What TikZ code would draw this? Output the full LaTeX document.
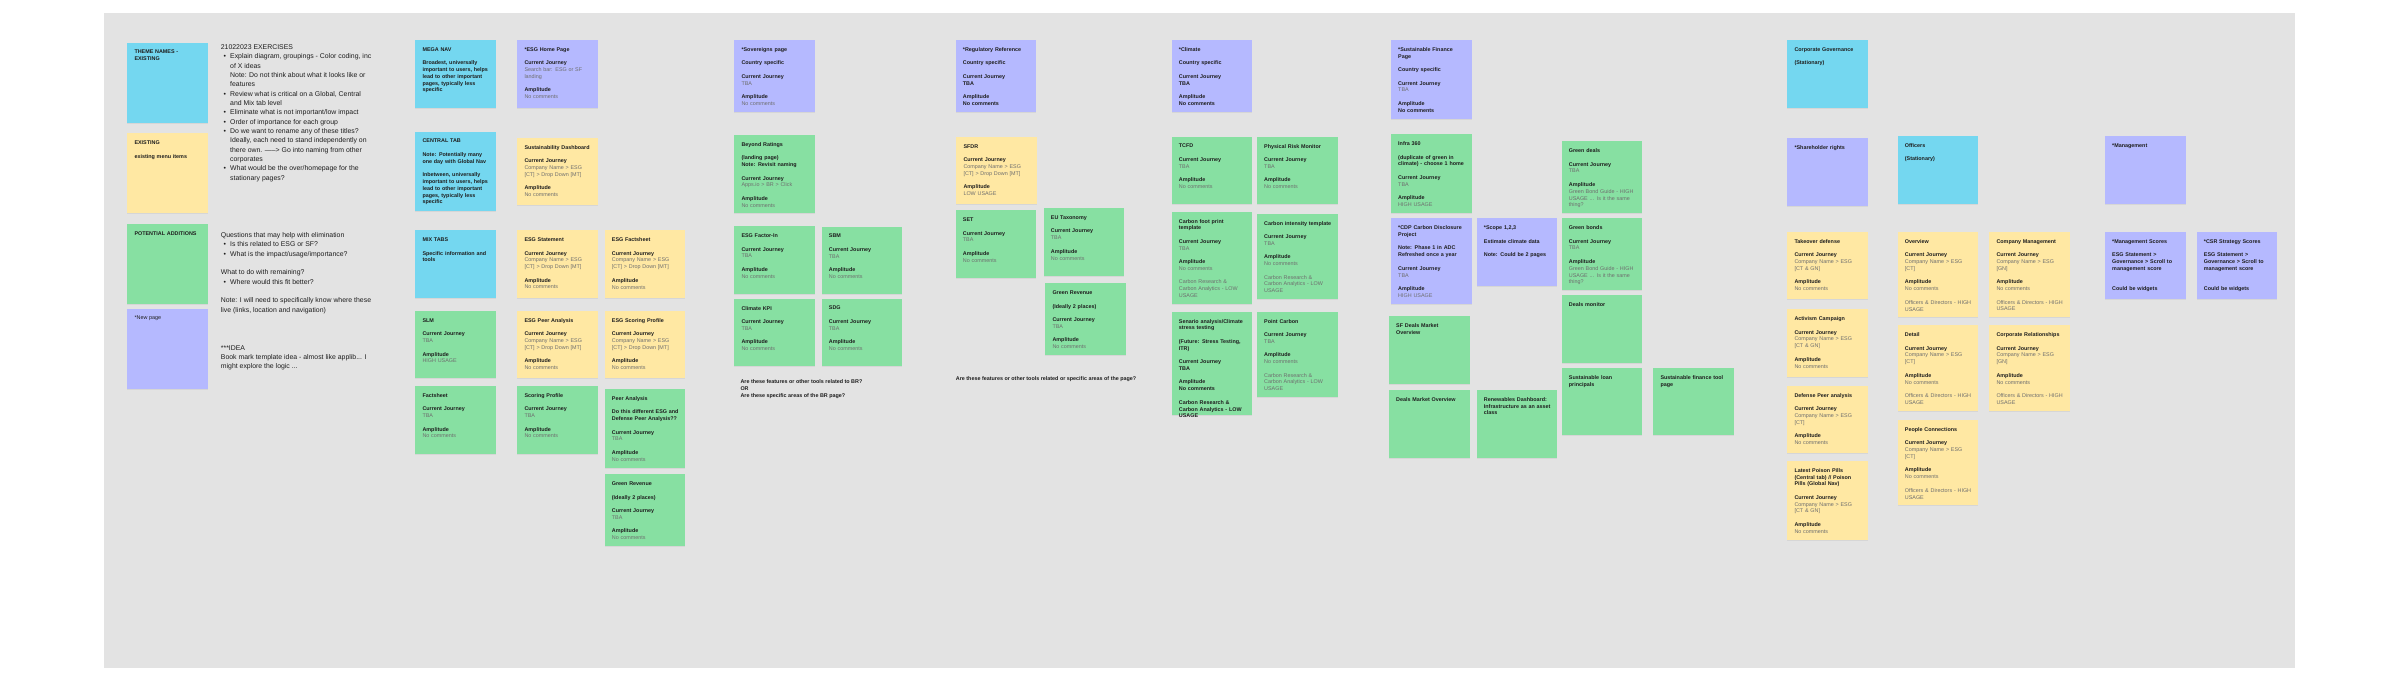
\documentclass[tikz,border=0pt]{standalone}
\usepackage{fontspec}
\setmainfont{Liberation Sans}
\usetikzlibrary{shadows}
\definecolor{boardc}{HTML}{E3E3E3}
\definecolor{cy}{HTML}{74D7F0}
\definecolor{pu}{HTML}{B5B9FF}
\definecolor{yl}{HTML}{FFE8A3}
\definecolor{gr}{HTML}{87E0A2}
\definecolor{gtext}{HTML}{6E6E6E}
\definecolor{btext}{HTML}{1E1E1E}
\newcommand\hb[1]{\textbf{#1}}
\newcommand\gt[1]{\textcolor{gtext}{#1}}
\newcommand\bl{\\[6.77pt]}
\newcommand\cjx{\hb{Current Journey}}
\newcommand\ampx{\hb{Amplitude}}
\newcommand\ncx{\gt{No comments}}
\newcommand\tbax{\gt{TBA}}
\newcommand\cnx{\gt{Company Name > ESG}}
\newcommand\ctx{\gt{[CT] > Drop Down [MT]}}
\newcommand\bul{\makebox[9.3pt][l]{\hspace{2.6pt}\textbullet}}
\newcommand\ind{\hspace*{9.3pt}}
\newcommand\stk[7]{%
  \node[note, fill=#2, minimum width=#5pt, minimum height=#6pt] (#1) at (#3,#4) {};
  \node[notetext] (#1-t) at ([xshift=7pt,yshift=-7.2pt]#1.north west) {#7};
}
\begin{document}
\begin{tikzpicture}[x=1pt,y=-1pt,
  note/.style={anchor=north west, inner sep=0pt, outer sep=0pt,
    drop shadow={opacity=0.13, shadow xshift=0pt, shadow yshift=-0.9pt}},
  notetext/.style={anchor=north west, inner sep=0pt, text width=76pt, align=left,
    text=btext, font=\fontsize{5.4}{6.77}\selectfont},
  freetext/.style={anchor=north west, inner sep=0pt, align=left, text=btext,
    font=\fontsize{6.9}{9.33}\selectfont}]
\useasboundingbox (0,0) rectangle (2400,688);
\fill[white] (0,0) rectangle (2400,688);
\node[anchor=north west, inner sep=0pt, fill=boardc, minimum width=2190.7pt, minimum height=654.7pt] (board) at (104,13) {};

% ---- legend column
\stk{theme}{cy}{127.3}{42.7}{81}{80}{\hb{THEME NAMES -}\\\hb{EXISTING}}
\stk{existing}{yl}{127.3}{133.3}{81}{80}{\hb{EXISTING}\bl\hb{existing menu items}}
\stk{potential}{gr}{127.3}{224}{81}{80}{\hb{POTENTIAL ADDITIONS}}
\stk{newpage}{pu}{127.3}{308.7}{81}{80.3}{*New page}

\node[freetext] (exercises) at (220.7,44.6) {21022023 EXERCISES\\
\bul Explain diagram, groupings - Color coding, inc\\
\ind of X ideas\\
\ind Note: Do not think about what it looks like or\\
\ind features\\
\bul Review what is critical on a Global, Central\\
\ind and Mix tab level\\
\bul Eliminate what is not important/low impact\\
\bul Order of importance for each group\\
\bul Do we want to rename any of these titles?\\
\ind Ideally, each need to stand independently on\\
\ind there own. -----> Go into naming from other\\
\ind corporates\\
\bul What would be the over/homepage for the\\
\ind stationary pages?};
\node[freetext] (questions) at (220.7,232.4) {Questions that may help with elimination\\
\bul Is this related to ESG or SF?\\
\bul What is the impact/usage/importance?\\[9.33pt]
What to do with remaining?\\
\bul Where would this fit better?\\[9.33pt]
Note: I will need to specifically know where these\\
live (links, location and navigation)};
\node[freetext] (idea) at (220.7,345.1) {***IDEA\\
Book mark template idea - almost like applib... I\\
might explore the logic ...};

% ---- nav column
\stk{meganav}{cy}{415.3}{40}{80.7}{67.7}{\hb{MEGA NAV}\bl\hb{Broadest, universally}\\\hb{important to users, helps}\\\hb{lead to other important}\\\hb{pages, typically less}\\\hb{specific}}
\stk{central}{cy}{415.3}{131.7}{80.7}{79.3}{\hb{CENTRAL TAB}\bl\hb{Note: Potentially many}\\\hb{one day with Global Nav}\bl\hb{Inbetween, universally}\\\hb{important to users, helps}\\\hb{lead to other important}\\\hb{pages, typically less}\\\hb{specific}}
\stk{mix}{cy}{415.3}{230.3}{80.7}{68}{\hb{MIX TABS}\bl\hb{Specific information and}\\\hb{tools}}
\stk{slm}{gr}{415.3}{311}{80.7}{67.3}{\hb{SLM}\bl\cjx\\\tbax\bl\ampx\\\gt{HIGH USAGE}}
\stk{factsheet}{gr}{415.3}{386}{80.7}{67.7}{\hb{Factsheet}\bl\cjx\\\tbax\bl\ampx\\\ncx}

% ---- ESG column
\stk{esghome}{pu}{517.3}{40}{80.7}{67.7}{\hb{*ESG Home Page}\bl\cjx\\\gt{Search bar: ESG or SF}\\\gt{landing}\bl\ampx\\\ncx}
\stk{susdash}{yl}{517.3}{137.7}{80.7}{67.3}{\hb{Sustainability Dashboard}\bl\cjx\\\cnx\\\ctx\bl\ampx\\\ncx}
\stk{esgstat}{yl}{517.3}{230.3}{80.7}{68}{\hb{ESG Statement}\bl\cjx\\\cnx\\\ctx\bl\ampx\\\ncx}
\stk{esgpeer}{yl}{517.3}{311}{80.7}{67.3}{\hb{ESG Peer Analysis}\bl\cjx\\\cnx\\\ctx\bl\ampx\\\ncx}
\stk{scoring}{gr}{517.3}{386}{80.7}{67.7}{\hb{Scoring Profile}\bl\cjx\\\tbax\bl\ampx\\\ncx}
\stk{esgfact}{yl}{604.7}{230.3}{80.7}{68}{\hb{ESG Factsheet}\bl\cjx\\\cnx\\\ctx\bl\ampx\\\ncx}
\stk{esgscore}{yl}{604.7}{311}{80.7}{67.3}{\hb{ESG Scoring Profile}\bl\cjx\\\cnx\\\ctx\bl\ampx\\\ncx}
\stk{peer}{gr}{604.7}{389}{80.7}{78.7}{\hb{Peer Analysis}\bl\hb{Do this different ESG and}\\\hb{Defense Peer Analysis??}\bl\cjx\\\tbax\bl\ampx\\\ncx}
\stk{greenrevA}{gr}{604.7}{474.3}{80.7}{71.7}{\hb{Green Revenue}\bl\hb{(Ideally 2 places)}\bl\cjx\\\tbax\bl\ampx\\\ncx}

% ---- Sovereigns column
\stk{sov}{pu}{734.3}{40}{80.5}{72.3}{\hb{*Sovereigns page}\bl\hb{Country specific}\bl\cjx\\\tbax\bl\ampx\\\ncx}
\stk{beyond}{gr}{734.3}{135}{80.5}{78.3}{\hb{Beyond Ratings}\bl\hb{(landing page)}\\\hb{Note: Revisit naming}\bl\cjx\\\gt{Apps.io > BR > Click}\bl\ampx\\\ncx}
\stk{factorin}{gr}{734.3}{226.3}{80.5}{67.7}{\hb{ESG Factor-In}\bl\cjx\\\tbax\bl\ampx\\\ncx}
\stk{sbm}{gr}{821.7}{226.7}{80.5}{67.7}{\hb{SBM}\bl\cjx\\\tbax\bl\ampx\\\ncx}
\stk{ckpi}{gr}{734.3}{298.7}{80.5}{67.7}{\hb{Climate KPI}\bl\cjx\\\tbax\bl\ampx\\\ncx}
\stk{sdg}{gr}{821.7}{298.7}{80.5}{67.7}{\hb{SDG}\bl\cjx\\\tbax\bl\ampx\\\ncx}
\node[anchor=north west, inner sep=0pt, align=left, text=btext, font=\fontsize{5.4}{7}\selectfont\bfseries] (brq) at (740.3,379.8) {Are these features or other tools related to BR?\\OR\\Are these specific areas of the BR page?};

% ---- Regulatory column
\stk{regref}{pu}{955.7}{40}{80.5}{72.3}{\hb{*Regulatory Reference}\bl\hb{Country specific}\bl\cjx\\\hb{TBA}\bl\ampx\\\hb{No comments}}
\stk{sfdr}{yl}{956.3}{137}{80.5}{67.3}{\hb{SFDR}\bl\cjx\\\cnx\\\ctx\bl\ampx\\\gt{LOW USAGE}}
\stk{set}{gr}{955.7}{210.3}{80.5}{67.3}{\hb{SET}\bl\cjx\\\tbax\bl\ampx\\\ncx}
\stk{eutax}{gr}{1043.7}{208.3}{80.5}{67.3}{\hb{EU Taxonomy}\bl\cjx\\\tbax\bl\ampx\\\ncx}
\stk{greenrevB}{gr}{1045.3}{283.3}{80.5}{71.7}{\hb{Green Revenue}\bl\hb{(Ideally 2 places)}\bl\cjx\\\tbax\bl\ampx\\\ncx}
\node[anchor=north west, inner sep=0pt, align=left, text=btext, font=\fontsize{5.4}{7}\selectfont\bfseries] (regq) at (955.7,376.4) {Are these features or other tools related or specific areas of the page?};

% ---- Climate column
\stk{climate}{pu}{1171.7}{40}{80.5}{72.3}{\hb{*Climate}\bl\hb{Country specific}\bl\cjx\\\hb{TBA}\bl\ampx\\\hb{No comments}}
\stk{tcfd}{gr}{1171.7}{136.7}{80.5}{67.7}{\hb{TCFD}\bl\cjx\\\tbax\bl\ampx\\\ncx}
\stk{cft}{gr}{1171.7}{211.7}{80.5}{92.3}{\hb{Carbon foot print}\\\hb{template}\bl\cjx\\\tbax\bl\ampx\\\ncx\bl\gt{Carbon Research \&}\\\gt{Carbon Analytics - LOW}\\\gt{USAGE}}
\stk{scen}{gr}{1171.7}{311.7}{80.5}{103.3}{\hb{Senario analysis/Climate}\\\hb{stress testing}\bl\hb{(Future: Stress Testing,}\\\hb{ITR)}\bl\cjx\\\hb{TBA}\bl\ampx\\\hb{No comments}\bl\hb{Carbon Research \&}\\\hb{Carbon Analytics - LOW}\\\hb{USAGE}}
\stk{physrisk}{gr}{1257}{136.7}{80.5}{67.7}{\hb{Physical Risk Monitor}\bl\cjx\\\tbax\bl\ampx\\\ncx}
\stk{cit}{gr}{1257}{213.7}{80.5}{85.7}{\hb{Carbon intensity template}\bl\cjx\\\tbax\bl\ampx\\\ncx\bl\gt{Carbon Research \&}\\\gt{Carbon Analytics - LOW}\\\gt{USAGE}}
\stk{pcarbon}{gr}{1257}{311.7}{80.5}{85.7}{\hb{Point Carbon}\bl\cjx\\\tbax\bl\ampx\\\ncx\bl\gt{Carbon Research \&}\\\gt{Carbon Analytics - LOW}\\\gt{USAGE}}

% ---- Sustainable finance column
\stk{sfpage}{pu}{1391}{40}{80.5}{79.3}{\hb{*Sustainable Finance}\\\hb{Page}\bl\hb{Country specific}\bl\cjx\\\tbax\bl\ampx\\\hb{No comments}}
\stk{infra}{gr}{1391}{134.3}{80.5}{79}{\hb{Infra 360}\bl\hb{(duplicate of green in}\\\hb{climate) - choose 1 home}\bl\cjx\\\tbax\bl\ampx\\\gt{HIGH USAGE}}
\stk{cdp}{pu}{1391}{218.3}{80.5}{85.7}{\hb{*CDP Carbon Disclosure}\\\hb{Project}\bl\hb{Note: Phase 1 in ADC}\\\hb{Refreshed once a year}\bl\cjx\\\tbax\bl\ampx\\\gt{HIGH USAGE}}
\stk{sfdeals}{gr}{1389}{316}{80.5}{67.7}{\hb{SF Deals Market}\\\hb{Overview}}
\stk{dealsmkt}{gr}{1389}{390}{80.5}{67.7}{\hb{Deals Market Overview}}
\stk{scope}{pu}{1476.7}{218.3}{80.5}{67.7}{\hb{*Scope 1,2,3}\bl\hb{Estimate climate data}\bl\hb{Note: Could be 2 pages}}
\stk{renew}{gr}{1476.7}{390}{80.5}{67.7}{\hb{Renewables Dashboard:}\\\hb{Infrastructure as an asset}\\\hb{class}}
\stk{greendeals}{gr}{1561.7}{141.3}{80.5}{72}{\hb{Green deals}\bl\cjx\\\tbax\bl\ampx\\\gt{Green Bond Guide - HIGH}\\\gt{USAGE ... Is it the same}\\\gt{thing?}}
\stk{greenbonds}{gr}{1561.7}{218.3}{80.5}{71.7}{\hb{Green bonds}\bl\cjx\\\tbax\bl\ampx\\\gt{Green Bond Guide - HIGH}\\\gt{USAGE ... Is it the same}\\\gt{thing?}}
\stk{dealsmon}{gr}{1561.7}{295.3}{80.5}{67.3}{\hb{Deals monitor}}
\stk{sustloan}{gr}{1561.7}{368}{80.5}{67.3}{\hb{Sustainable loan}\\\hb{principals}}
\stk{sftool}{gr}{1653.3}{368}{80.5}{67.3}{\hb{Sustainable finance tool}\\\hb{page}}

% ---- Corporate governance
\stk{corpgov}{cy}{1787.3}{40}{80.5}{67.7}{\hb{Corporate Governance}\bl\hb{(Stationary)}}
\stk{share}{pu}{1787.3}{138.3}{80.5}{67.7}{\hb{*Shareholder rights}}
\stk{takeover}{yl}{1787.3}{232}{80.5}{67.3}{\hb{Takeover defense}\bl\cjx\\\cnx\\\gt{[CT \& GN]}\bl\ampx\\\ncx}
\stk{activism}{yl}{1787.3}{309.3}{80.5}{67.3}{\hb{Activism Campaign}\bl\cjx\\\cnx\\\gt{[CT \& GN]}\bl\ampx\\\ncx}
\stk{defpeer}{yl}{1787.3}{386}{80.5}{67.3}{\hb{Defense Peer analysis}\bl\cjx\\\cnx\\\gt{[CT]}\bl\ampx\\\ncx}
\stk{poison}{yl}{1787.3}{461}{80.5}{79}{\hb{Latest Poison Pills}\\\hb{(Central tab) // Poison}\\\hb{Pills (Global Nav)}\bl\cjx\\\cnx\\\gt{[CT \& GN]}\bl\ampx\\\ncx}
\stk{officers}{cy}{1897.7}{136}{80.5}{67.7}{\hb{Officers}\bl\hb{(Stationary)}}
\stk{overview}{yl}{1897.7}{232}{80.5}{85.3}{\hb{Overview}\bl\cjx\\\cnx\\\gt{[CT]}\bl\ampx\\\ncx\bl\gt{Officers \& Directors - HIGH}\\\gt{USAGE}}
\stk{detail}{yl}{1897.7}{325.3}{80.5}{85.3}{\hb{Detail}\bl\cjx\\\cnx\\\gt{[CT]}\bl\ampx\\\ncx\bl\gt{Officers \& Directors - HIGH}\\\gt{USAGE}}
\stk{people}{yl}{1897.7}{420}{80.5}{85.3}{\hb{People Connections}\bl\cjx\\\cnx\\\gt{[CT]}\bl\ampx\\\ncx\bl\gt{Officers \& Directors - HIGH}\\\gt{USAGE}}
\stk{compmgmt}{yl}{1989.3}{232}{80.5}{85.3}{\hb{Company Management}\bl\cjx\\\cnx\\\gt{[GN]}\bl\ampx\\\ncx\bl\gt{Officers \& Directors - HIGH}\\\gt{USAGE}}
\stk{corprel}{yl}{1989.3}{325.3}{80.5}{85.3}{\hb{Corporate Relationships}\bl\cjx\\\cnx\\\gt{[GN]}\bl\ampx\\\ncx\bl\gt{Officers \& Directors - HIGH}\\\gt{USAGE}}
\stk{mgmt}{pu}{2105}{136}{80.5}{67.7}{\hb{*Management}}
\stk{mgmtsc}{pu}{2105}{232}{80.5}{67.3}{\hb{*Management Scores}\bl\hb{ESG Statement >}\\\hb{Governance > Scroll to}\\\hb{management score}\\[13.54pt]\hb{Could be widgets}}
\stk{csr}{pu}{2196.7}{232}{80.5}{67.3}{\hb{*CSR Strategy Scores}\bl\hb{ESG Statement >}\\\hb{Governance > Scroll to}\\\hb{management score}\\[13.54pt]\hb{Could be widgets}}
\end{tikzpicture}
\end{document}
